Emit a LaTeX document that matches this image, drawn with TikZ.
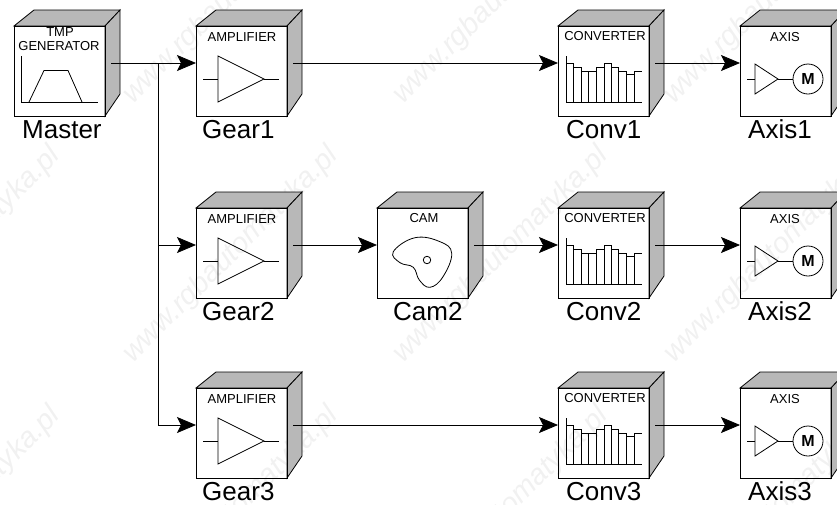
\documentclass[tikz,border=0pt]{standalone}
\usepackage{fontspec}
\setmainfont{Liberation Sans}
\usetikzlibrary{arrows.meta}
\definecolor{sidegray}{HTML}{B8B8B8}
\definecolor{markgray}{HTML}{F1F1F1}
\tikzset{
  x=1pt,y=-1pt,
  line/.style={draw=black,line width=0.8pt,line join=miter},
  flow/.style={line,-{Stealth[length=19pt,width=16pt,inset=4pt]}},
  face/.style={line,fill=sidegray},
  frontface/.style={line,rectangle,minimum width=91pt,minimum height=90pt,inner sep=0pt,outer sep=0pt},
  biglabel/.style={font=\fontsize{26}{26}\selectfont,inner sep=0pt,anchor=base west,text=black},
  smalllabel/.style={font=\fontsize{13}{13}\selectfont,inner sep=0pt,anchor=base,text=black},
  watermark/.style={font=\fontsize{29}{29}\selectfont\itshape,text=markgray,rotate=45,inner sep=0pt}
}
% #1 name, #2 x, #3 y, #4 label text, #5 label x offset
\newcommand\cubebox[5]{%
  \begin{scope}[shift={(#2,#3)}]
    \draw[face] (0,0) -- (20,-16) -- (106,-16) -- (91,0) -- cycle;
    \draw[face] (91,0) -- (106,-16) -- (106,68) -- (91,90) -- cycle;
    \node[frontface,anchor=north west] (#1) at (0,0) {};
    \coordinate (#1-in) at (0,37);
    \coordinate (#1-out) at (97,37);
    \node[biglabel] (#1-label) at (#5,112) {#4};
  \end{scope}}
\newcommand\ampsym[3]{%
  \begin{scope}[shift={(#2,#3)}]
    \node[smalllabel] (#1-title) at (46,15) {AMPLIFIER};
    \draw[line] (22,30) -- (68,53) -- (22,76) -- cycle;
    \draw[line] (7,53) -- (22,53) (68,53) -- (83,53);
  \end{scope}}
\newcommand\convsym[3]{%
  \begin{scope}[shift={(#2,#3)}]
    \node[smalllabel] (#1-title) at (47,14) {CONVERTER};
    \draw[line] (8,30) -- (8,76) -- (84,76);
    \draw[line] (8,37.7) -- (15.7,37.7) -- (15.7,41.3) -- (23,41.3) -- (23,45) -- (38.3,45)
      -- (38.3,41.3) -- (46,41.3) -- (46,37.7) -- (53.7,37.7) -- (53.7,41.3) -- (60.7,41.3)
      -- (60.7,45) -- (68.3,45) -- (68.3,48.7) -- (76.3,48.7) -- (76.3,45) -- (84,45);
    \foreach \vx/\vy in {15.7/41.3,23/45,30.7/45,38.3/45,46/41.3,53.7/41.3,60.7/45,68.3/48.7,76.3/48.7}
      \draw[line] (\vx,\vy) -- (\vx,76);
  \end{scope}}
\newcommand\axissym[3]{%
  \begin{scope}[shift={(#2,#3)}]
    \node[smalllabel] (#1-title) at (45,15) {AXIS};
    \draw[line] (15,38) -- (38,53) -- (15,68) -- cycle;
    \draw[line] (7,53) -- (15,53) (38,53) -- (53,53);
    \node[line,circle,minimum size=30pt,inner sep=0pt,font=\fontsize{16}{16}\selectfont\bfseries] (#1-motor) at (68,53) {M};
  \end{scope}}
\begin{document}
\begin{tikzpicture}
\useasboundingbox (0,0) rectangle (837,504);
\clip (0,0) rectangle (837,504);
% watermark tiles
\foreach \wy [count=\wr] in {-4,255,515}
  \foreach \wx [count=\wc] in {-47,231,501,772}
    \node[watermark] (mark\wr\wc) at (\wx,\wy) {www.rgbautomatyka.pl};
% boxes
\cubebox{master}{14}{26}{Master}{8}
\cubebox{gearA}{196}{26}{Gear1}{6}
\cubebox{convA}{558}{26}{Conv1}{8}
\cubebox{axisA}{740}{26}{Axis1}{8}
\cubebox{gearB}{196}{208}{Gear2}{6}
\cubebox{camB}{377}{208}{Cam2}{16}
\cubebox{convB}{558}{208}{Conv2}{8}
\cubebox{axisB}{740}{208}{Axis2}{8}
\cubebox{gearC}{196}{388}{Gear3}{6}
\cubebox{convC}{558}{388}{Conv3}{8}
\cubebox{axisC}{740}{388}{Axis3}{8}
% master contents
\begin{scope}[shift={(14,26)}]
  \node[smalllabel] (master-titleA) at (46,10.7) {TMP};
  \node[smalllabel] (master-titleB) at (45,24) {GENERATOR};
  \draw[line] (7,30) -- (7,76) -- (84,76);
  \draw[line] (15,76) -- (30,44.5) -- (54,44.5) -- (68,76);
\end{scope}
\ampsym{gearA}{196}{26}
\ampsym{gearB}{196}{208}
\ampsym{gearC}{196}{388}
\convsym{convA}{558}{26}
\convsym{convB}{558}{208}
\convsym{convC}{558}{388}
\axissym{axisA}{740}{26}
\axissym{axisB}{740}{208}
\axissym{axisC}{740}{388}
% cam contents
\begin{scope}[shift={(377,208)}]
  \node[smalllabel] (camB-title) at (47,14) {CAM};
  \draw[line] plot[smooth cycle,tension=0.7] coordinates {(16.3,43.7) (38,29.7) (63,33.7) (74.7,45.3) (66,68.7) (53,79.3) (42.3,72) (36.3,59.3) (23,54.7)};
  \node[line,circle,minimum size=7.5pt,inner sep=0pt] (camB-hole) at (50,52) {};
\end{scope}
% connectors
\coordinate (branch) at (158,63);
\draw[flow] (master-out) -- (gearA-in);
\draw[flow] (branch) |- (gearB-in);
\draw[flow] (branch) |- (gearC-in);
\draw[flow] (gearA-out) -- (convA-in);
\draw[flow] (convA-out) -- (axisA-in);
\draw[flow] (gearB-out) -- (camB-in);
\draw[flow] (camB-out) -- (convB-in);
\draw[flow] (convB-out) -- (axisB-in);
\draw[flow] (gearC-out) -- (convC-in);
\draw[flow] (convC-out) -- (axisC-in);
\end{tikzpicture}
\end{document}
